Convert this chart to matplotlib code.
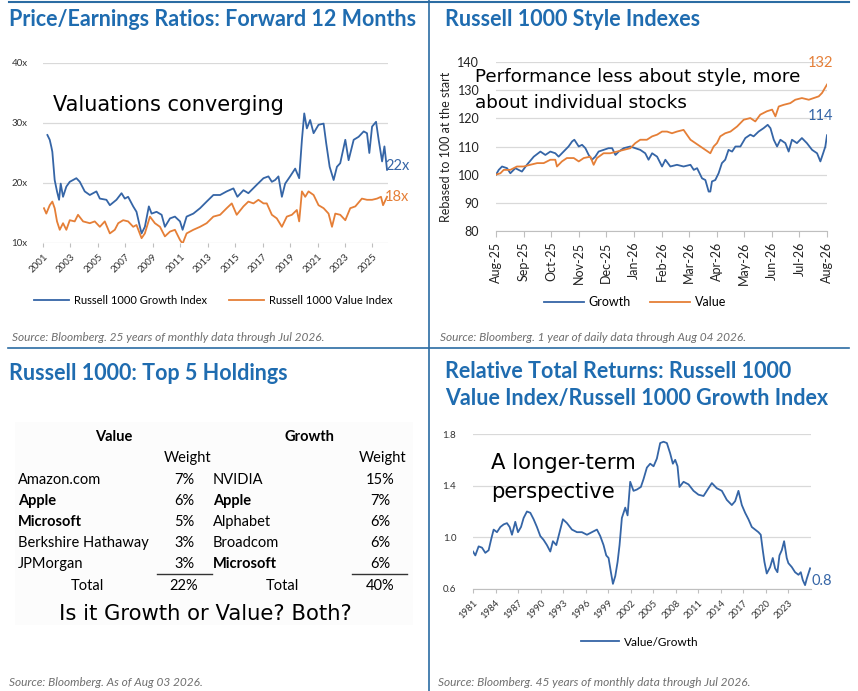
import matplotlib
matplotlib.use("Agg")
import matplotlib.pyplot as plt
from matplotlib.lines import Line2D
from matplotlib.patches import Rectangle

# ---- data: P/E ratios, forward 12 months ----
pe_growth_year = [2001.32, 2001.49, 2001.61, 2001.68, 2001.85, 2002.02, 2002.17, 2002.29, 2002.46, 2002.70,
                  2002.95, 2003.43, 2003.68, 2004.04, 2004.41, 2004.89, 2005.14, 2005.62, 2005.87, 2006.35,
                  2006.72, 2006.96, 2007.20, 2007.57, 2007.81, 2008.06, 2008.18, 2008.42, 2008.71, 2008.91,
                  2009.27, 2009.64, 2009.88, 2010.25, 2010.61, 2010.98, 2011.17, 2011.46, 2011.95, 2012.44,
                  2012.92, 2013.41, 2013.90, 2014.38, 2014.87, 2015.16, 2015.60, 2015.96, 2016.57, 2017.06,
                  2017.42, 2017.67, 2017.91, 2018.15, 2018.40, 2018.64, 2019.00, 2019.37, 2019.66, 2019.86,
                  2020.03, 2020.22, 2020.46, 2020.71, 2021.07, 2021.44, 2021.63, 2021.88, 2022.17, 2022.41,
                  2022.65, 2023.02, 2023.26, 2023.63, 2023.99, 2024.36, 2024.60, 2024.77, 2024.97, 2025.26,
                  2025.45, 2025.70, 2025.87, 2026.06]
pe_growth = [28.0, 27.2, 26.0, 25.2, 20.5, 18.6, 17.2, 19.9, 17.7, 19.4,
             20.2, 20.8, 20.2, 18.6, 18.0, 18.6, 17.4, 17.2, 16.3, 17.2,
             18.3, 17.4, 17.7, 16.1, 15.2, 12.7, 11.6, 12.7, 16.1, 14.9,
             15.2, 14.7, 12.7, 14.1, 14.4, 13.6, 12.2, 14.4, 14.9, 15.8,
             16.9, 18.0, 18.0, 18.6, 19.1, 17.7, 18.8, 18.3, 19.7, 20.8,
             21.1, 20.2, 20.5, 21.1, 17.7, 19.9, 21.1, 22.4, 20.8, 27.2,
             31.6, 29.1, 30.5, 28.3, 29.7, 29.9, 26.6, 22.7, 20.5, 22.7,
             23.3, 27.2, 23.8, 27.2, 27.7, 28.6, 28.3, 25.0, 29.4, 30.2,
             27.2, 23.6, 26.1, 22.2]
pe_value_year = [2001.07, 2001.24, 2001.49, 2001.68, 2001.85, 2002.02, 2002.22, 2002.46, 2002.70, 2002.95,
                 2003.31, 2003.55, 2003.92, 2004.41, 2004.77, 2005.14, 2005.50, 2005.87, 2006.23, 2006.48,
                 2006.84, 2007.20, 2007.57, 2007.81, 2008.18, 2008.42, 2008.79, 2009.15, 2009.52, 2009.88,
                 2010.25, 2010.61, 2010.98, 2011.17, 2011.46, 2011.95, 2012.44, 2012.92, 2013.41, 2013.90,
                 2014.38, 2014.75, 2015.11, 2015.60, 2015.96, 2016.33, 2016.69, 2017.06, 2017.30, 2017.67,
                 2018.03, 2018.40, 2018.76, 2019.13, 2019.49, 2019.66, 2019.86, 2020.10, 2020.34, 2020.71,
                 2021.07, 2021.44, 2021.80, 2022.05, 2022.29, 2022.65, 2023.02, 2023.38, 2023.75, 2024.23,
                 2024.60, 2024.97, 2025.33, 2025.62, 2025.77, 2026.06]
pe_value = [15.8, 14.9, 16.3, 16.9, 15.8, 13.6, 12.2, 13.3, 12.2, 13.8,
            13.6, 14.7, 13.6, 13.3, 13.6, 12.7, 13.6, 11.6, 12.2, 13.3,
            13.8, 13.6, 12.7, 13.0, 10.8, 11.6, 14.4, 13.3, 12.7, 11.1,
            11.9, 12.2, 10.5, 9.9, 11.6, 12.2, 12.7, 13.3, 14.4, 14.7,
            15.8, 16.6, 14.7, 16.1, 16.9, 16.6, 17.2, 16.6, 16.6, 14.7,
            14.1, 12.7, 14.4, 14.7, 15.5, 13.6, 18.6, 17.7, 18.6, 18.0,
            16.3, 15.8, 14.9, 12.7, 14.9, 14.7, 13.8, 15.8, 16.1, 17.4,
            17.2, 17.2, 17.4, 17.7, 16.3, 17.7]
pe_years = list(range(2001, 2027, 2))

# ---- data: Russell 1000 style indexes, rebased ----
months = ["Aug-25", "Sep-25", "Oct-25", "Nov-25", "Dec-25", "Jan-26", "Feb-26",
          "Mar-26", "Apr-26", "May-26", "Jun-26", "Jul-26", "Aug-26"]
style_growth_t = [0, 0.10, 0.22, 0.40, 0.52, 0.70, 0.94, 1.12, 1.37, 1.61, 1.79, 1.97, 2.15, 2.27, 2.45,
                  2.63, 2.76, 2.84, 3.00, 3.12, 3.24, 3.36, 3.48, 3.60, 3.72, 3.90, 4.08, 4.21, 4.33, 4.45,
                  4.63, 4.87, 5.05, 5.23, 5.41, 5.53, 5.66, 5.84, 6.02, 6.14, 6.32, 6.56, 6.80, 7.05, 7.17,
                  7.29, 7.47, 7.59, 7.71, 7.77, 7.83, 7.95, 8.07, 8.19, 8.31, 8.43, 8.56, 8.68, 8.86, 9.04,
                  9.22, 9.34, 9.52, 9.70, 9.85, 9.95, 10.07, 10.19, 10.31, 10.49, 10.61, 10.73, 10.91, 11.09,
                  11.27, 11.46, 11.64, 11.76, 11.86, 11.94, 12.0]
style_growth = [100.0, 101.7, 102.9, 102.3, 100.5, 102.3, 101.1, 103.5, 106.4, 108.2, 107.0, 108.2, 107.6, 106.4, 108.2,
                110.0, 111.8, 112.4, 110.0, 110.6, 109.4, 107.0, 105.3, 106.4, 108.2, 108.8, 109.4, 109.4, 107.0, 108.2,
                109.4, 110.0, 109.4, 108.8, 107.6, 105.3, 107.6, 106.4, 102.9, 105.3, 102.9, 103.5, 102.9, 103.5, 101.7,
                102.3, 98.7, 98.1, 94.0, 94.0, 97.6, 98.1, 100.5, 104.1, 105.3, 108.8, 108.2, 110.0, 110.0, 113.0,
                114.2, 113.6, 115.3, 116.5, 117.7, 116.5, 112.4, 110.0, 112.4, 111.2, 108.2, 112.4, 111.2, 113.0,
                111.2, 108.8, 107.6, 104.7, 107.6, 110.0, 114.0]
style_value_t = [0, 0.16, 0.28, 0.52, 0.76, 1.00, 1.24, 1.49, 1.73, 1.97, 2.15, 2.21, 2.39, 2.57, 2.82,
                 3.00, 3.18, 3.42, 3.54, 3.66, 3.90, 4.14, 4.39, 4.63, 4.87, 5.05, 5.23, 5.47, 5.66, 5.84,
                 6.02, 6.20, 6.38, 6.56, 6.80, 6.92, 7.05, 7.23, 7.41, 7.59, 7.77, 7.89, 8.01, 8.13, 8.31,
                 8.50, 8.74, 8.98, 9.22, 9.40, 9.58, 9.82, 10.01, 10.13, 10.25, 10.43, 10.67, 10.85, 11.09,
                 11.34, 11.52, 11.70, 11.82, 12.0]
style_value = [100.0, 100.5, 101.7, 101.7, 102.9, 102.9, 103.5, 104.1, 104.1, 105.3, 105.3, 102.9, 104.7, 105.9, 105.9,
               104.7, 105.9, 106.4, 103.5, 105.9, 107.6, 107.6, 108.2, 108.8, 109.4, 111.2, 112.4, 112.4, 113.6, 114.2,
               115.3, 115.3, 114.7, 115.3, 115.9, 114.2, 112.4, 111.2, 110.0, 108.8, 107.6, 110.0, 111.2, 113.6, 114.7,
               115.3, 117.1, 119.5, 120.1, 118.9, 121.3, 122.5, 123.1, 120.7, 124.2, 124.8, 125.4, 126.6, 127.2,
               126.6, 127.2, 127.8, 129.0, 132.0]

# ---- data: top 5 holdings ----
value_names = ["Amazon.com", "Apple", "Microsoft", "Berkshire Hathaway", "JPMorgan"]
value_weights = ["7%", "6%", "5%", "3%", "3%"]
growth_names = ["NVIDIA", "Apple", "Alphabet", "Broadcom", "Microsoft"]
growth_weights = ["15%", "7%", "6%", "6%", "6%"]
bold_names = {"Apple", "Microsoft"}
value_total = "22%"
growth_total = "40%"

# ---- data: relative total returns value/growth ----
rel_year = [1981.00, 1981.31, 1981.75, 1982.20, 1982.64, 1983.08, 1983.44, 1983.75, 1984.19, 1984.64,
            1985.08, 1985.52, 1985.88, 1986.19, 1986.63, 1986.99, 1987.39, 1987.74, 1988.18, 1988.63,
            1989.07, 1989.51, 1989.96, 1990.40, 1990.84, 1991.29, 1991.64, 1992.09, 1992.53, 1992.97,
            1993.51, 1994.17, 1994.84, 1995.50, 1996.17, 1996.83, 1997.50, 1997.94, 1998.38, 1998.74,
            1999.05, 1999.36, 1999.63, 1999.94, 2000.25, 2000.51, 2000.82, 2001.27, 2001.58, 2001.93,
            2002.37, 2002.82, 2003.35, 2003.70, 2004.15, 2004.59, 2005.04, 2005.48, 2005.92, 2006.37,
            2006.81, 2007.25, 2007.61, 2007.92, 2008.23, 2008.49, 2009.03, 2009.69, 2010.36, 2011.02,
            2011.69, 2012.35, 2012.80, 2013.46, 2014.13, 2014.79, 2015.46, 2015.90, 2016.34, 2016.79,
            2017.23, 2017.67, 2018.12, 2018.56, 2019.00, 2019.31, 2019.58, 2019.80, 2020.11, 2020.56,
            2020.91, 2021.22, 2021.53, 2021.80, 2022.11, 2022.42, 2022.77, 2022.99, 2023.44, 2023.88,
            2024.33, 2024.64, 2024.90, 2025.21, 2025.44, 2025.66, 2025.88]
rel_ratio = [0.89, 0.86, 0.93, 0.92, 0.88, 0.90, 0.99, 1.06, 1.04, 1.08,
             1.10, 1.11, 1.08, 1.02, 1.12, 1.04, 1.08, 1.15, 1.20, 1.19,
             1.14, 1.08, 1.01, 0.98, 0.94, 0.89, 0.97, 0.94, 1.04, 1.14,
             1.11, 1.06, 1.04, 1.04, 1.02, 1.04, 1.06, 1.01, 0.94, 0.86,
             0.84, 0.73, 0.64, 0.70, 0.81, 0.94, 1.15, 1.23, 1.17, 1.43,
             1.36, 1.37, 1.39, 1.45, 1.54, 1.57, 1.55, 1.61, 1.73, 1.74,
             1.73, 1.65, 1.57, 1.60, 1.55, 1.39, 1.43, 1.41, 1.36, 1.33,
             1.32, 1.38, 1.42, 1.38, 1.36, 1.29, 1.25, 1.28, 1.36, 1.25,
             1.19, 1.14, 1.08, 1.06, 1.04, 1.02, 0.90, 0.81, 0.72, 0.77,
             0.84, 0.76, 0.73, 0.86, 0.90, 0.97, 0.84, 0.80, 0.77, 0.73,
             0.71, 0.73, 0.67, 0.63, 0.68, 0.72, 0.76]
rel_years = list(range(1981, 2024, 3))

# ---- style ----
W, H = 858, 691
BLUE = "#3565a6"
ORANGE = "#e57f37"
TITLE = "#1f6cb0"
RULE = "#2b6ca3"
GRID = "#d9d9d9"
SRC = "#6f6f6f"
FONT = "Lato"
HAND = "DejaVu Sans"
plt.rcParams["font.family"] = FONT


def fx(x):
    return x / W


def fy(y):
    return 1 - y / H


def box(x0, y0, x1, y1):
    return [fx(x0), fy(y1), (x1 - x0) / W, (y1 - y0) / H]


fig = plt.figure(figsize=(W / 100, H / 100), dpi=100)

# panel rules
fig.add_artist(Line2D([fx(9), fx(849)], [fy(2), fy(2)], color=RULE, lw=1.5))
fig.add_artist(Line2D([fx(8), fx(849)], [fy(348), fy(348)], color=RULE, lw=1.2))
fig.add_artist(Line2D([fx(429), fx(429)], [0, 1], color=RULE, lw=1.2))


def title(x, y, s):
    fig.text(fx(x), fy(y), s, color=TITLE, fontsize=15.5, fontweight="bold",
             ha="left", va="center")


def source(x, y, s):
    fig.text(fx(x), fy(y), s, color=SRC, fontsize=8.6, style="italic", ha="left", va="center")


def base_axis(ax, grid_color=GRID):
    for side in ["top", "right", "left"]:
        ax.spines[side].set_visible(False)
    ax.spines["bottom"].set_color("#bfbfbf")
    ax.grid(axis="y", color=grid_color, lw=0.9)
    ax.set_axisbelow(True)
    ax.tick_params(axis="y", length=0)
    ax.tick_params(axis="x", color="#bfbfbf", length=3)


# ---- panel 1: P/E ratios ----
title(9, 20, "Price/Earnings Ratios: Forward 12 Months")
ax1 = fig.add_axes(box(43, 63, 388, 243))
base_axis(ax1)
ax1.plot(pe_growth_year, pe_growth, color=BLUE, lw=1.3, label="Russell 1000 Growth Index")
ax1.plot(pe_value_year, pe_value, color=ORANGE, lw=1.3, label="Russell 1000 Value Index")
ax1.set_ylim(10, 40)
ax1.set_xlim(2001, 2026.13)
ax1.set_yticks([10, 20, 30, 40])
ax1.set_yticklabels(["10x", "20x", "30x", "40x"], fontsize=7, color="#333333")
ax1.tick_params(axis="y", pad=11)
ax1.set_xticks(pe_years)
ax1.set_xticklabels([str(y) for y in pe_years], fontsize=7, color="#333333",
                    rotation=45, ha="right", rotation_mode="anchor")
ax1.spines["bottom"].set_visible(False)
ax1.text(2025.9, 22.9, "22x", color=BLUE, fontsize=10.5, va="center", ha="left")
ax1.text(2025.9, 17.6, "18x", color=ORANGE, fontsize=10.5, va="center", ha="left")
ax1.legend(loc="center", bbox_to_anchor=(fx(213), fy(300)), bbox_transform=fig.transFigure,
           ncol=2, frameon=False, fontsize=8, handlelength=3.2, columnspacing=2.0, handletextpad=0.4)
fig.text(fx(53), fy(105), "Valuations converging", fontfamily=HAND, fontsize=15, ha="left", va="center")
source(12, 337, "Source: Bloomberg. 25 years of monthly data through Jul 2026.")

# ---- panel 2: style indexes ----
title(445, 20, "Russell 1000 Style Indexes")
ax2 = fig.add_axes(box(496, 62, 827, 231))
base_axis(ax2)
ax2.plot(style_growth_t, style_growth, color=BLUE, lw=1.3, label="Growth")
ax2.plot(style_value_t, style_value, color=ORANGE, lw=1.3, label="Value")
ax2.set_ylim(80, 140)
ax2.set_xlim(0, 12)
ax2.set_yticks(range(80, 141, 10))
ax2.set_yticklabels([str(v) for v in range(80, 141, 10)], fontsize=9, color="#222222")
ax2.tick_params(axis="y", pad=12)
ax2.set_xticks(range(len(months)))
ax2.set_xticklabels(months, fontsize=9, color="#222222", rotation=90)
ax2.tick_params(axis="x", length=4)
ax2.set_ylabel("Rebased to 100 at the start", fontsize=9, color="#222222", labelpad=4)
ax2.text(12.22, 139.8, "132", color=ORANGE, fontsize=10.5, ha="right", va="center")
ax2.text(12.22, 121.0, "114", color=BLUE, fontsize=10.5, ha="right", va="center")
ax2.legend(loc="center", bbox_to_anchor=(fx(635), fy(302)), bbox_transform=fig.transFigure,
           ncol=2, frameon=False, fontsize=9, handlelength=3.2, columnspacing=1.5, handletextpad=0.4)
fig.text(fx(475), fy(77), "Performance less about style, more", fontfamily=HAND, fontsize=13.2,
         ha="left", va="center")
fig.text(fx(475), fy(103), "about individual stocks", fontfamily=HAND, fontsize=13.2,
         ha="left", va="center")
source(440, 337, "Source: Bloomberg. 1 year of daily data through Aug 04 2026.")

# ---- panel 3: top 5 holdings table ----
title(9, 373, "Russell 1000: Top 5 Holdings")
fig.add_artist(Rectangle((fx(15), fy(625)), (413 - 15) / W, (625 - 422) / H,
                         facecolor="#fcfcfc", edgecolor="none", zorder=0))
tsize = 10.5
fig.text(fx(114), fy(437), "Value", fontsize=tsize, fontweight="bold", ha="center", va="center")
fig.text(fx(309), fy(437), "Growth", fontsize=tsize, fontweight="bold", ha="center", va="center")
fig.text(fx(188), fy(458), "Weight", fontsize=tsize, ha="center", va="center")
fig.text(fx(383), fy(458), "Weight", fontsize=tsize, ha="center", va="center")
row_y = [480, 501, 522, 543, 564]
for i, y in enumerate(row_y):
    fig.text(fx(18), fy(y), value_names[i], fontsize=tsize, ha="left", va="center",
             fontweight="bold" if value_names[i] in bold_names else "normal")
    fig.text(fx(184), fy(y), value_weights[i], fontsize=tsize, ha="center", va="center")
    fig.text(fx(213), fy(y), growth_names[i], fontsize=tsize, ha="left", va="center",
             fontweight="bold" if growth_names[i] in bold_names else "normal")
    fig.text(fx(380), fy(y), growth_weights[i], fontsize=tsize, ha="center", va="center")
fig.add_artist(Line2D([fx(157), fx(212)], [fy(574), fy(574)], color="#333333", lw=1.0))
fig.add_artist(Line2D([fx(352), fx(407)], [fy(574), fy(574)], color="#333333", lw=1.0))
fig.text(fx(87), fy(586), "Total", fontsize=tsize, ha="center", va="center")
fig.text(fx(184), fy(586), value_total, fontsize=tsize, ha="center", va="center")
fig.text(fx(282), fy(586), "Total", fontsize=tsize, ha="center", va="center")
fig.text(fx(380), fy(586), growth_total, fontsize=tsize, ha="center", va="center")
fig.text(fx(205), fy(614), "Is it Growth or Value? Both?", fontfamily=HAND, fontsize=15.2,
         ha="center", va="center")
source(9, 682, "Source: Bloomberg. As of Aug 03 2026.")

# ---- panel 4: relative total returns ----
title(445, 372, "Relative Total Returns: Russell 1000")
title(445, 398, "Value Index/Russell 1000 Growth Index")
ax4 = fig.add_axes(box(473, 434, 811, 589))
base_axis(ax4)
ax4.plot(rel_year, rel_ratio, color=BLUE, lw=1.3, label="Value/Growth")
ax4.set_ylim(0.6, 1.8)
ax4.set_xlim(1981, 2026.0)
ax4.set_yticks([0.6, 1.0, 1.4, 1.8])
ax4.set_yticklabels(["0.6", "1.0", "1.4", "1.8"], fontsize=7, color="#333333")
ax4.tick_params(axis="y", pad=12)
ax4.set_xticks(rel_years)
ax4.set_xticklabels([str(y) for y in rel_years], fontsize=6.8, color="#333333",
                    rotation=45, ha="right", rotation_mode="anchor")
ax4.text(2026.0, 0.665, "0.8", color=BLUE, fontsize=10.5, ha="left", va="center")
ax4.legend(loc="center", bbox_to_anchor=(fx(640), fy(642)), bbox_transform=fig.transFigure,
           frameon=False, fontsize=8.5, handlelength=3.2, handletextpad=0.4)
fig.text(fx(491), fy(463), "A longer-term", fontfamily=HAND, fontsize=15.2, ha="left", va="center")
fig.text(fx(491), fy(492), "perspective", fontfamily=HAND, fontsize=15.2, ha="left", va="center")
source(438, 682, "Source: Bloomberg. 45 years of monthly data through Jul 2026.")

fig.savefig("out.png", dpi=100)
